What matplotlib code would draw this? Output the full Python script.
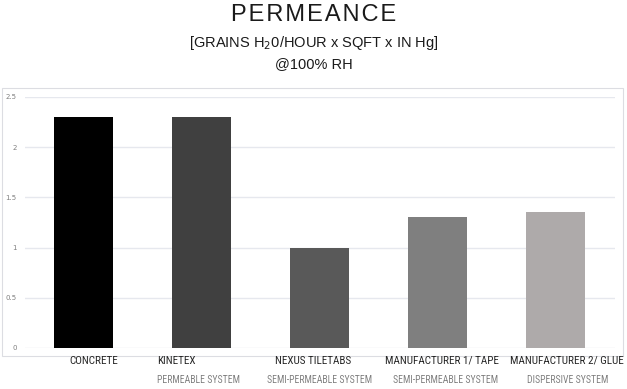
import numpy as np
import matplotlib.pyplot as plt
from matplotlib.patches import Rectangle

categories = ['CONCRETE', 'KINETEX', 'NEXUS TILETABS', 'MANUFACTURER 1/ TAPE', 'MANUFACTURER 2/ GLUE']
subtitles = ['', 'PERMEABLE SYSTEM', 'SEMI-PERMEABLE SYSTEM', 'SEMI-PERMEABLE SYSTEM', 'DISPERSIVE SYSTEM']
values = [2.3, 2.3, 1.0, 1.3, 1.35]
colors = ['#000000', '#404040', '#595959', '#7f7f7f', '#aeaaaa']
yticks = [0, 0.5, 1, 1.5, 2, 2.5]

fig = plt.figure(figsize=(6.27, 3.89), dpi=100)
ax = fig.add_axes([25/627, 1-348/389, 589.5/627, 251/389])

x = np.arange(len(categories))
ax.bar(x, values, width=0.5, color=colors, zorder=3)
ax.set_xlim(-0.5, len(categories) - 0.5)
ax.set_ylim(0, 2.5)
ax.set_yticks(yticks)
ax.set_yticklabels(['0', '0.5', '1', '1.5', '2', '2.5'], fontsize=5, color='#7f7f7f')
ax.tick_params(axis='y', length=0, pad=6)
ax.set_xticks([])
for s in ax.spines.values():
    s.set_visible(False)
for t in yticks:
    ax.axhline(t, color='#e6e8ee', lw=1.0, zorder=1)

# outer frame around chart area
fig.patches.append(Rectangle((2/627, 1-356/389), 621/627, 268/389, transform=fig.transFigure,
                             fill=False, edgecolor='#dcdde2', lw=0.8))

cond = ['Roboto Condensed', 'Liberation Sans Narrow', 'Roboto', 'DejaVu Sans']
# label positions relative to bar centers (category units)
lab_off = [0.08, -0.38, -0.055, 0.04, 0.1]
lab_ha = ['center', 'left', 'center', 'center', 'center']
sub_off = [0, -0.38, 0.0, 0.07, 0.1]
for i in range(len(categories)):
    xl = ax.transData.transform((x[i] + lab_off[i], 0))[0] / 627
    fig.text(xl, 1-361/389, categories[i], ha=lab_ha[i], va='center', fontsize=8,
             family=cond, color='#262626')
    if subtitles[i]:
        xs = ax.transData.transform((x[i] + sub_off[i], 0))[0] / 627
        fig.text(xs, 1-380/389, subtitles[i], ha=lab_ha[i], va='center', fontsize=7,
                 family=cond, color='#808080')

sp = '\u200a'
fig.text(0.5, 1-15/389, sp.join('PERMEANCE'), ha='center', va='center', fontsize=17,
         family=['Liberation Sans', 'DejaVu Sans'], color='#1a1a1a')
fig.text(0.5, 1-43/389, r'[GRAINS H$_2$0/HOUR x SQFT x IN Hg]', ha='center', va='center',
         fontsize=10.5, family='Liberation Sans', color='#1a1a1a')
fig.text(0.5, 1-64/389, '@100% RH', ha='center', va='center', fontsize=10.5,
         family='Liberation Sans', color='#1a1a1a')

fig.savefig('out.png', dpi=100)
